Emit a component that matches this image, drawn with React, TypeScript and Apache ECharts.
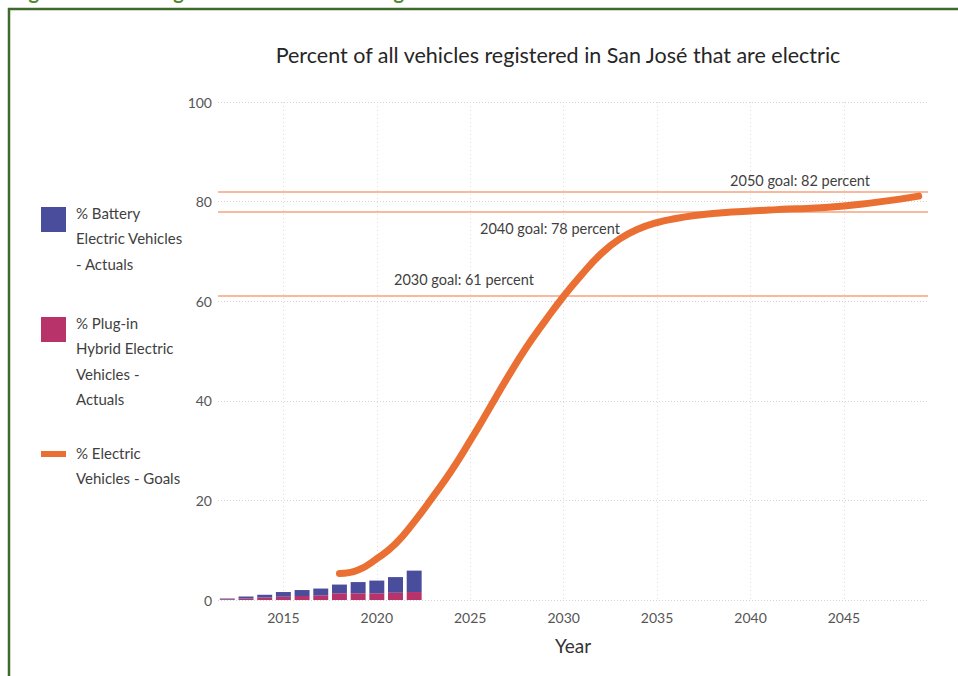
import { useEffect, useRef } from 'react';
import * as echarts from 'echarts';

// Model years on the category axis
const years = [
  '2012', '2013', '2014', '2015', '2016', '2017', '2018', '2019', '2020', '2021',
  '2022', '2023', '2024', '2025', '2026', '2027', '2028', '2029', '2030', '2031',
  '2032', '2033', '2034', '2035', '2036', '2037', '2038', '2039', '2040', '2041',
  '2042', '2043', '2044', '2045', '2046', '2047', '2048', '2049',
];

// Registered vehicle shares (%), 2012–2022
const phevActual = [0.15, 0.3, 0.5, 0.65, 0.8, 0.95, 1.35, 1.35, 1.35, 1.45, 1.6];
const bevActual = [0.15, 0.4, 0.55, 0.95, 1.2, 1.35, 1.75, 2.25, 2.55, 3.15, 4.3];

// Goal trajectory (%), 2018–2049
const goalStartYear = '2018';
const goalPct = [
  5.3, 6.0, 8.3, 11.3, 15.7, 20.7, 26, 32, 38.3, 44.7, 50.7, 56, 61, 65.5, 69.5, 72.5,
  74.5, 75.8, 76.6, 77.2, 77.6, 77.9, 78.1, 78.3, 78.5, 78.6, 78.8, 79.1, 79.5, 80.0, 80.5, 81.1,
];

// Milestone goals
const goalLabels = ['2030 goal: 61 percent', '2040 goal: 78 percent', '2050 goal: 82 percent'];
const goalValues = [61, 78, 82];

const yTicks = [0, 20, 40, 60, 80, 100];

const BEV_COLOR = '#4a4c9c';
const PHEV_COLOR = '#b8336a';
const GOAL_COLOR = '#ea6f33';
const GOAL_LINE_COLOR = '#f4a37c';
const TEXT_COLOR = '#3f3f3f';
const FONT = "'Segoe UI', Lato, 'Open Sans', sans-serif";

const legendItems = [
  { name: '% Battery\nElectric Vehicles\n- Actuals', color: BEV_COLOR, kind: 'box' },
  { name: '% Plug-in\nHybrid Electric\nVehicles -\nActuals', color: PHEV_COLOR, kind: 'box' },
  { name: '% Electric\nVehicles - Goals', color: GOAL_COLOR, kind: 'dash' },
];

function buildOption(): echarts.EChartsOption {
  const offset = years.indexOf(goalStartYear);
  const goalSeries = years.map((_, i) => (i < offset ? null : goalPct[i - offset]));
  const isMajor = (_: number, v: string) => Number(v) % 5 === 0;

  const labelPlacement: Record<number, any> = {
    61: { position: 'insideStartTop', distance: [176, 9] },
    78: { position: 'insideStartBottom', distance: [262, 9] },
    82: { position: 'insideEndTop', distance: [58, 4] },
  };

  const legendTop = [200, 310, 440];
  const graphic: any[] = [
    // report frame
    {
      type: 'rect',
      shape: { x: 9, y: 9, width: 1000, height: 720 },
      style: { fill: 'none', stroke: '#3f6a29', lineWidth: 2.5 },
      silent: true,
    },
    // figure caption above the frame
    {
      type: 'text',
      x: 12,
      y: 0.5,
      style: {
        text: 'Figure 1: Percentage of Electric Vehicles Registered in San José',
        font: `bold 20px ${FONT}`,
        fill: '#4f8a2e',
        textVerticalAlign: 'bottom',
      },
      silent: true,
    },
  ];
  legendItems.forEach((it, i) => {
    const top = legendTop[i];
    graphic.push(
      it.kind === 'box'
        ? { type: 'rect', shape: { x: 41, y: top + 7, width: 25, height: 25 }, style: { fill: it.color } }
        : { type: 'rect', shape: { x: 41, y: top + 11, width: 25, height: 6 }, style: { fill: it.color } },
      {
        type: 'text',
        x: 76,
        y: top,
        style: {
          text: it.name,
          font: `15px ${FONT}`,
          lineHeight: 25.5,
          fill: TEXT_COLOR,
          textVerticalAlign: 'top',
        },
      },
    );
  });

  return {
    animation: false,
    backgroundColor: '#ffffff',
    textStyle: { fontFamily: FONT },
    title: {
      text: 'Percent of all vehicles registered in San José that are electric',
      left: 553,
      top: 39,
      textAlign: 'center',
      textStyle: { fontFamily: FONT, fontSize: 21.5, fontWeight: 'normal', color: '#262626' },
    },
    grid: { left: 218, right: 30, top: 102, bottom: 76, containLabel: false },
    xAxis: {
      type: 'category',
      data: years,
      boundaryGap: true,
      name: 'Year',
      nameLocation: 'middle',
      nameGap: 36,
      nameTextStyle: { fontSize: 19, color: '#333333', fontFamily: FONT },
      axisLine: { show: false },
      axisTick: { show: false },
      axisLabel: { interval: isMajor, fontSize: 14, color: '#555555', margin: 10, fontFamily: FONT },
      splitLine: {
        show: true,
        interval: isMajor,
        alignWithLabel: true,
        lineStyle: { color: '#dcdcdc', type: [1, 3], width: 1 },
      } as any,
    },
    yAxis: {
      type: 'value',
      min: yTicks[0],
      max: yTicks[yTicks.length - 1],
      interval: yTicks[1] - yTicks[0],
      axisLine: { show: false },
      axisTick: { show: false },
      axisLabel: { fontSize: 14, color: '#555555', margin: 6, fontFamily: FONT },
      splitLine: { lineStyle: { color: '#d4d4d4', type: [1, 2], width: 1 } },
    },
    series: [
      {
        name: '% Plug-in Hybrid Electric Vehicles - Actuals',
        type: 'bar',
        stack: 'actual',
        data: phevActual,
        barWidth: '80%',
        itemStyle: { color: PHEV_COLOR },
      },
      {
        name: '% Battery Electric Vehicles - Actuals',
        type: 'bar',
        stack: 'actual',
        data: bevActual,
        barWidth: '80%',
        itemStyle: { color: BEV_COLOR },
      },
      {
        name: '% Electric Vehicles - Goals',
        type: 'line',
        data: goalSeries,
        smooth: 0.5,
        showSymbol: false,
        connectNulls: false,
        z: 5,
        lineStyle: { color: GOAL_COLOR, width: 7, cap: 'round', join: 'round' },
        itemStyle: { color: GOAL_COLOR },
        markLine: {
          silent: true,
          symbol: 'none',
          z: 3,
          lineStyle: { color: GOAL_LINE_COLOR, type: 'solid', width: 1.5 },
          data: goalValues.map((v, i) => ({
            yAxis: v,
            label: {
              show: true,
              formatter: goalLabels[i],
              color: TEXT_COLOR,
              fontSize: 14.5,
              fontFamily: FONT,
              ...labelPlacement[v],
            },
          })),
        },
      },
    ],
    graphic,
  };
}

export default function App() {
  const ref = useRef<HTMLDivElement>(null);
  useEffect(() => {
    if (!ref.current) return;
    const chart = echarts.init(ref.current, null, { renderer: 'svg' });
    chart.setOption(buildOption());
    return () => chart.dispose();
  }, []);
  return (
    <div
      ref={ref}
      style={{ position: 'fixed', left: 0, top: 0, width: 958, height: 676, background: '#ffffff' }}
    />
  );
}
